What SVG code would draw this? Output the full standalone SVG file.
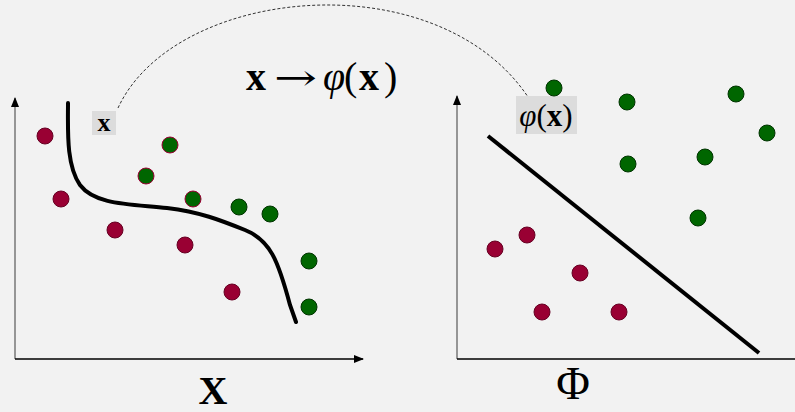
<svg xmlns="http://www.w3.org/2000/svg" width="795" height="412" viewBox="0 0 795 412">
<defs>
<marker id="ah" markerWidth="10" markerHeight="8" refX="9" refY="4" orient="auto" markerUnits="userSpaceOnUse">
<path d="M0,0 L10,4 L0,8 Z" fill="#000"/>
</marker>
</defs>
<style>
.red{fill:#990033;stroke:#660022;stroke-width:1}
.grn{fill:#006600;stroke:#003300;stroke-width:1}
.grnr{fill:#006600;stroke:#990033;stroke-width:1}
.ser{font-family:"Liberation Serif","DejaVu Serif",serif}
.lbl{fill:#dcdcdc}
</style>
<rect width="795" height="412" fill="#f2f2f2"/>
<g id="axes-left">
<line x1="15" y1="359" x2="15" y2="98" stroke="#777" stroke-width="1.5" marker-end="url(#ah)"/>
<line x1="15" y1="359" x2="363" y2="359" stroke="#000" stroke-width="1.5" marker-end="url(#ah)"/>
<text class="ser" x="213" y="404" font-size="40" font-weight="bold" text-anchor="middle">X</text>
</g>
<g id="axes-right">
<line x1="457" y1="359" x2="457" y2="96" stroke="#777" stroke-width="1.5" marker-end="url(#ah)"/>
<line x1="457" y1="359" x2="795" y2="359" stroke="#000" stroke-width="1.5"/>
<text class="ser" x="573" y="399" font-size="46" text-anchor="middle">Φ</text>
</g>
<g id="connectors">
<path d="M118,108 C175,-15 440,-40 530,100" fill="none" stroke="#000" stroke-width="0.8" stroke-dasharray="3,2"/>
</g>
<g id="formula">
<text class="ser" y="90" font-size="40"><tspan x="246" font-weight="bold">x</tspan><tspan x="274" font-family="DejaVu Serif" font-size="36" textLength="43" lengthAdjust="spacingAndGlyphs">→</tspan><tspan x="323" font-style="italic">φ</tspan><tspan x="344">(</tspan><tspan x="359" font-weight="bold">x</tspan><tspan x="384">)</tspan></text>
</g>
<g id="label-x">
<rect class="lbl" x="92" y="111" width="24" height="24"/>
<text class="ser" x="104" y="131" font-size="26" font-weight="bold" text-anchor="middle">x</text>
</g>
<g id="label-phix">
<rect class="lbl" x="516" y="96" width="61" height="38"/>
<text class="ser" x="546" y="126" font-size="31" text-anchor="middle"><tspan font-style="italic">φ</tspan>(<tspan font-weight="bold">x</tspan>)</text>
</g>
<g id="boundary-left">
<path d="M68,103 C68,130 66,165 80,185 C95,205 130,204 167,208 C200,212 220,220 245,230 C270,240 278,260 290,305 L296,322" fill="none" stroke="#000" stroke-width="4" stroke-linecap="round"/>
</g>
<g id="points-left">
<circle class="red" cx="45" cy="136" r="8"/>
<circle class="red" cx="61" cy="199" r="8"/>
<circle class="red" cx="115" cy="230" r="8"/>
<circle class="red" cx="185" cy="245" r="8"/>
<circle class="red" cx="232" cy="292" r="8"/>
<circle class="grnr" cx="170" cy="145" r="8"/>
<circle class="grnr" cx="146" cy="176" r="8"/>
<circle class="grnr" cx="193" cy="199" r="8"/>
<circle class="grn" cx="239" cy="207" r="8"/>
<circle class="grn" cx="270" cy="214" r="8"/>
<circle class="grn" cx="309" cy="261" r="8"/>
<circle class="grn" cx="309" cy="307" r="8"/>
</g>
<g id="boundary-right">
<line x1="488" y1="136" x2="759" y2="353" stroke="#000" stroke-width="4"/>
</g>
<g id="points-right">
<circle class="grn" cx="554" cy="88" r="8"/>
<circle class="grn" cx="627" cy="102" r="8"/>
<circle class="grn" cx="736" cy="94" r="8"/>
<circle class="grn" cx="767" cy="133" r="8"/>
<circle class="grn" cx="628" cy="164" r="8"/>
<circle class="grn" cx="705" cy="157" r="8"/>
<circle class="grn" cx="698" cy="218" r="8"/>
<circle class="red" cx="495" cy="249" r="8"/>
<circle class="red" cx="527" cy="235" r="8"/>
<circle class="red" cx="580" cy="273" r="8"/>
<circle class="red" cx="542" cy="312" r="8"/>
<circle class="red" cx="619" cy="312" r="8"/>
</g>
</svg>
